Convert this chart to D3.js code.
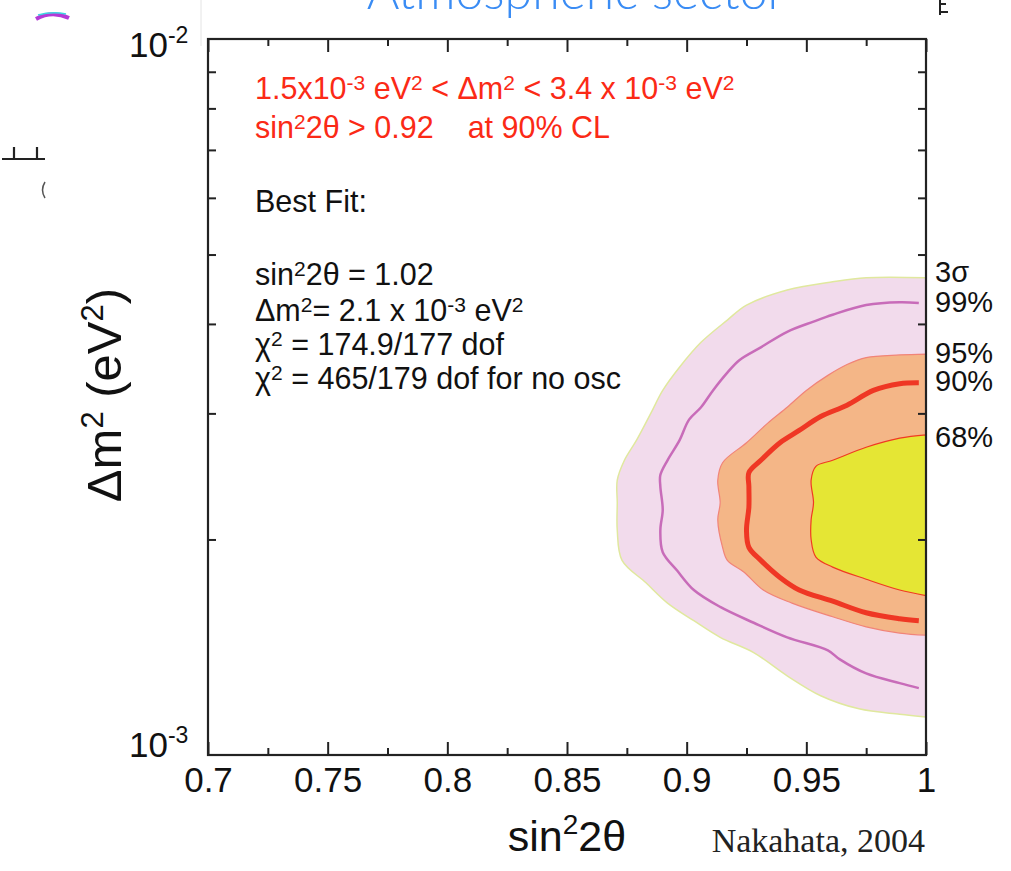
<!DOCTYPE html>
<html>
<head>
<meta charset="utf-8">
<script src="https://cdn.jsdelivr.net/npm/d3@7"></script>
<style>
body { margin: 0; background: #fff; }
svg { display: block; font-family: "Liberation Sans", Arial, Helvetica, sans-serif; }
</style>
</head>
<body>
<svg id="chart" width="1011" height="871"></svg>
<script>
// axis ticks
var xMajorTicks = [0.7, 0.75, 0.8, 0.85, 0.9, 0.95, 1];
var xTickLabels = ["0.7", "0.75", "0.8", "0.85", "0.9", "0.95", "1"];
var xMinorTicks = [0.725, 0.775, 0.825, 0.875, 0.925, 0.975];
var yMinorTicks = [2e-3, 3e-3, 4e-3, 5e-3, 6e-3, 7e-3, 8e-3, 9e-3];
var yDecades = [1e-3, 1e-2];
var yDecadeExp = ["-3", "-2"];

// contours: [sin^2 2theta, dm^2 in units of 1e-3 eV^2]
var sigma3Region = [[1.0, 4.64], [0.975, 4.64], [0.961, 4.58], [0.942, 4.46], [0.925, 4.25], [0.917, 4.05],
    [0.906, 3.77], [0.897, 3.48], [0.890, 3.23], [0.885, 3.00], [0.879, 2.75], [0.874, 2.58], [0.871, 2.42],
    [0.871, 2.25], [0.871, 2.06], [0.873, 1.87], [0.883, 1.74], [0.892, 1.63], [0.903, 1.54], [0.914, 1.46],
    [0.928, 1.39], [0.942, 1.29], [0.956, 1.21], [0.972, 1.16], [0.989, 1.14], [1.0, 1.13]];
var cl99Line = [[0.997, 4.28], [0.989, 4.29], [0.975, 4.25], [0.961, 4.12], [0.953, 4.03], [0.942, 3.90],
    [0.931, 3.71], [0.922, 3.56], [0.917, 3.42], [0.911, 3.23], [0.906, 3.06], [0.901, 2.94], [0.897, 2.75],
    [0.892, 2.58], [0.889, 2.46], [0.889, 2.37], [0.890, 2.20], [0.889, 2.06], [0.890, 1.92], [0.896, 1.81],
    [0.903, 1.70], [0.914, 1.61], [0.928, 1.53], [0.942, 1.46], [0.959, 1.40], [0.964, 1.36], [0.975, 1.30],
    [0.989, 1.26], [0.997, 1.24]];
var cl95Region = [[1.0, 3.63], [0.989, 3.62], [0.975, 3.59], [0.967, 3.51], [0.959, 3.39], [0.950, 3.23],
    [0.942, 3.06], [0.934, 2.91], [0.925, 2.73], [0.915, 2.56], [0.913, 2.42], [0.914, 2.25], [0.913, 2.13],
    [0.915, 1.95], [0.917, 1.87], [0.924, 1.80], [0.932, 1.70], [0.944, 1.63], [0.961, 1.56], [0.975, 1.51],
    [0.989, 1.48], [1.0, 1.47]];
var cl90Line = [[0.997, 3.31], [0.989, 3.30], [0.978, 3.23], [0.967, 3.08], [0.956, 2.97], [0.947, 2.84],
    [0.939, 2.73], [0.931, 2.58], [0.926, 2.48], [0.926, 2.37], [0.926, 2.22], [0.925, 2.06], [0.926, 1.95],
    [0.931, 1.87], [0.939, 1.77], [0.947, 1.70], [0.961, 1.64], [0.975, 1.58], [0.989, 1.55], [0.997, 1.54]];
var cl68Region = [[1.0, 2.80], [0.989, 2.77], [0.975, 2.69], [0.961, 2.58], [0.954, 2.53], [0.952, 2.42],
    [0.953, 2.25], [0.952, 2.13], [0.952, 2.00], [0.954, 1.89], [0.961, 1.83], [0.975, 1.76], [0.989, 1.70],
    [1.0, 1.67]];

var clLabels = ["3σ", "99%", "95%", "90%", "68%"];

// text blocks ("^" marks a superscript piece)
var rangeLines = [
    ["1.5x10", "^-3", " eV", "^2", " < Δm", "^2", " < 3.4 x 10", "^-3", " eV", "^2"],
    ["sin", "^2", "2θ > 0.92\u00a0\u00a0\u00a0\u00a0at 90% CL"]
];
var bestFitLines = [
    ["Best Fit:"],
    ["sin", "^2", "2θ = 1.02"],
    ["Δm", "^2", "= 2.1 x 10", "^-3", " eV", "^2"],
    ["χ", "^2", " = 174.9/177 dof"],
    ["χ", "^2", " = 465/179 dof for no osc"]
];

var margin = {top: 39, right: 85, bottom: 116, left: 208},
    width = 1011 - margin.left - margin.right,
    height = 871 - margin.top - margin.bottom;

var svg = d3.select("#chart");

function richText(sel, segs, size, supSize, raise) {
    var up = false;
    segs.forEach(function (s) {
        var t = sel.append("tspan");
        if (s[0] == "^") {
            t.text(s.substring(1)).attr("font-size", supSize).attr("dy", -raise);
            up = true;
        } else {
            t.text(s).attr("font-size", size);
            if (up) t.attr("dy", raise);
            up = false;
        }
    });
}

// leftover bits of the slide around the figure
var deco = svg.append("g").attr("fill", "none");
deco.append("path").attr("d", "M201,0V46").attr("stroke", "#e4e4e4").attr("stroke-width", 1);
deco.append("path").attr("d", "M36,19Q52,10 69,18").attr("stroke", "#b43ad6").attr("stroke-width", 4);
deco.append("path").attr("d", "M38,15Q52,11 66,14").attr("stroke", "#3fd6e0").attr("stroke-width", 1.5);
deco.append("path").attr("d", "M2,159H45M14,159V147M37,159V147").attr("stroke", "#222").attr("stroke-width", 2.2);
deco.append("path").attr("d", "M45,182Q40,190 45,198").attr("stroke", "#555").attr("stroke-width", 1.5);
deco.append("path").attr("d", "M940,0V15M940,4H946M940,12H948").attr("stroke", "#222").attr("stroke-width", 2);

// cut-off slide title
svg.append("text").attr("x", 576).attr("y", 9).attr("text-anchor", "middle")
    .attr("font-family", "Lato, 'Open Sans', sans-serif").attr("font-weight", 300)
    .attr("font-size", 50).attr("fill", "#3a8cf4").text("Atmospheric  sector");

var g = svg.append("g").attr("transform", "translate(" + margin.left + "," + margin.top + ")");

var x = d3.scaleLinear().domain([0.7, 1.0]).range([0, width]);
var y = d3.scaleLog().domain([1e-3, 1e-2]).range([height, 0]);

g.append("clipPath").attr("id", "plotClip").append("rect").attr("width", width).attr("height", height);
var plot = g.append("g").attr("clip-path", "url(#plotClip)");

var curve = d3.line().curve(d3.curveCatmullRom.alpha(0.5))
    .x(function (d) { return x(d[0]); })
    .y(function (d) { return y(d[1] * 1e-3); });

plot.append("path").attr("d", curve(sigma3Region) + "Z")
    .attr("fill", "#f2dbec").attr("stroke", "#e0e89e").attr("stroke-width", 1.5);
plot.append("path").attr("d", curve(cl99Line))
    .attr("fill", "none").attr("stroke", "#c86cb9").attr("stroke-width", 2.5);
plot.append("path").attr("d", curve(cl95Region) + "Z")
    .attr("fill", "#f4b687").attr("stroke", "#f18478").attr("stroke-width", 1.2);
plot.append("path").attr("d", curve(cl90Line))
    .attr("fill", "none").attr("stroke", "#ef3724").attr("stroke-width", 5);
plot.append("path").attr("d", curve(cl68Region) + "Z")
    .attr("fill", "#e5e634").attr("stroke", "#f03a22").attr("stroke-width", 1.2);

// ticks on all four sides, pointing inward
function noDomain(sel) { sel.select(".domain").remove(); }
g.append("g").attr("transform", "translate(0," + height + ")")
    .call(d3.axisBottom(x).tickValues(xMajorTicks).tickSizeInner(-13).tickSizeOuter(0).tickPadding(4)
        .tickFormat(function (d, i) { return xTickLabels[i]; }))
    .call(noDomain)
    .call(function (a) {
        a.selectAll("text").attr("font-size", 35).attr("font-family", "'Liberation Sans', Arial, sans-serif")
            .attr("fill", "#111").attr("dy", "0.95em");
    });
g.append("g").attr("transform", "translate(0," + height + ")")
    .call(d3.axisBottom(x).tickValues(xMinorTicks).tickSizeInner(-7).tickSizeOuter(0).tickFormat(""))
    .call(noDomain);
g.append("g")
    .call(d3.axisTop(x).tickValues(xMajorTicks).tickSizeInner(-13).tickSizeOuter(0).tickFormat(""))
    .call(noDomain);
g.append("g")
    .call(d3.axisTop(x).tickValues(xMinorTicks).tickSizeInner(-7).tickSizeOuter(0).tickFormat(""))
    .call(noDomain);
g.append("g")
    .call(d3.axisLeft(y).tickValues(yMinorTicks).tickSizeInner(-8).tickSizeOuter(0).tickFormat(""))
    .call(noDomain);
g.append("g").attr("transform", "translate(" + width + ",0)")
    .call(d3.axisRight(y).tickValues(yMinorTicks).tickSizeInner(-8).tickSizeOuter(0).tickFormat(""))
    .call(noDomain);
g.selectAll(".tick line").attr("stroke", "#222").attr("stroke-width", 2);

// frame
g.append("rect").attr("width", width).attr("height", height)
    .attr("fill", "none").attr("stroke", "#222").attr("stroke-width", 2.2);

// decade labels 10^-3 / 10^-2
var decadeShift = [2, 18];
yDecades.forEach(function (v, i) {
    var t = g.append("text").attr("x", -79).attr("y", y(v) + decadeShift[i])
        .attr("fill", "#111").attr("font-family", "'Liberation Sans', Arial, sans-serif");
    richText(t, ["10", "^" + yDecadeExp[i]], 35, 23, 14);
});

// confidence level labels at the right end of each contour
var labelEnds = [sigma3Region[0], cl99Line[0], cl95Region[0], cl90Line[0], cl68Region[0]];
var labelShift = [-6, -1, -2, -2, 2];
clLabels.forEach(function (lab, i) {
    g.append("text").attr("x", width + 9).attr("y", y(labelEnds[i][1] * 1e-3) + labelShift[i])
        .attr("dy", "0.36em").attr("font-size", 29).attr("fill", "#111").text(lab);
});

// range text (red) and best fit text (black)
rangeLines.forEach(function (segs, i) {
    var t = g.append("text").attr("x", 47).attr("y", 60 + i * 39).attr("fill", "#fb2a16");
    richText(t, segs, 30.5, 21, 9);
});
var bestFitY = [173, 246, 282, 316, 350];
bestFitLines.forEach(function (segs, i) {
    var t = g.append("text").attr("x", 47).attr("y", bestFitY[i]).attr("fill", "#111");
    richText(t, segs, 30.5, 21, 9);
});

// axis titles
var xt = svg.append("text").attr("x", 567).attr("y", 851).attr("text-anchor", "middle").attr("fill", "#111");
richText(xt, ["sin", "^2", "2θ"], 43, 28, 17);
var yt = svg.append("text").attr("transform", "translate(121,395) rotate(-90)")
    .attr("text-anchor", "middle").attr("fill", "#111");
richText(yt, ["Δm", "^2", " (eV", "^2", ")"], 49, 31, 18);

svg.append("text").attr("x", 925).attr("y", 852).attr("text-anchor", "end")
    .attr("font-family", "'Liberation Serif', 'DejaVu Serif', serif").attr("font-size", 34)
    .attr("fill", "#222").text("Nakahata, 2004");
</script>
</body>
</html>
